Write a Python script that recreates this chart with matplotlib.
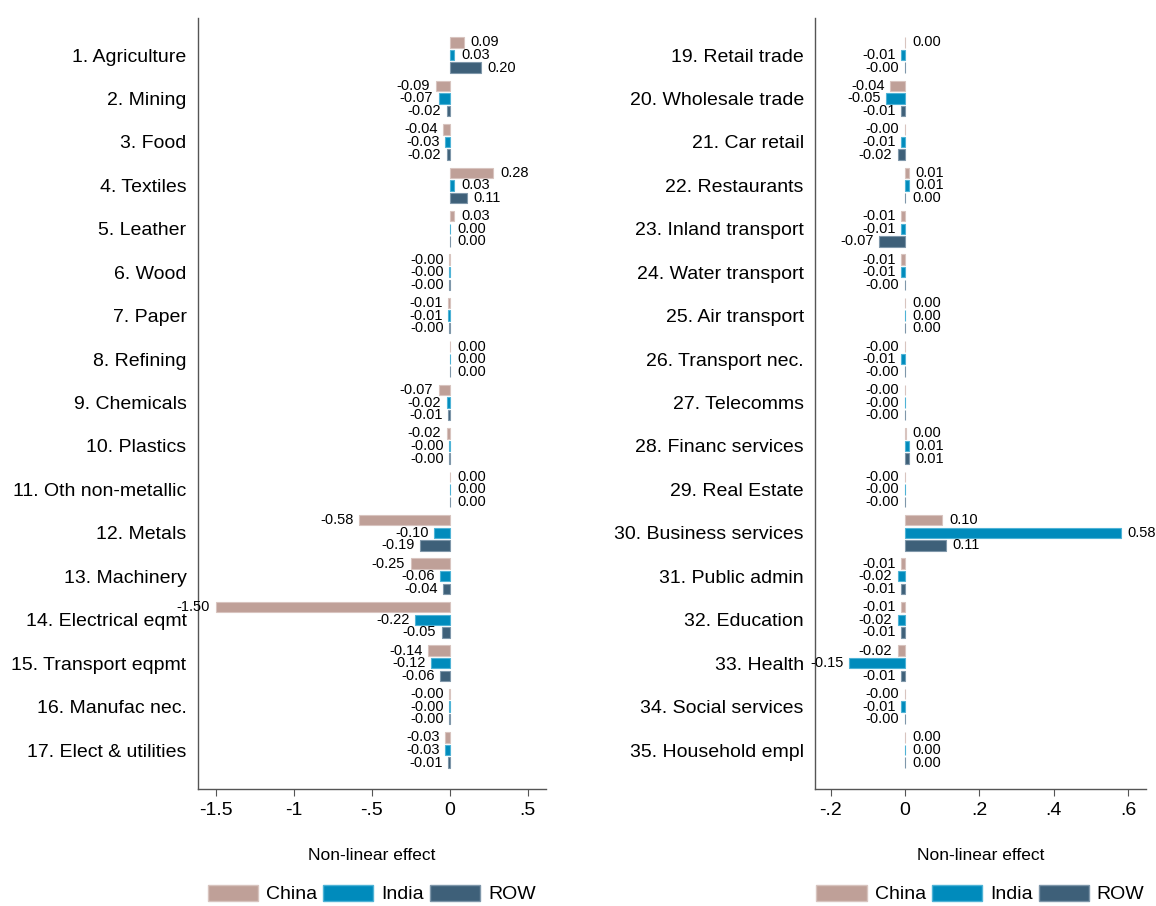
import matplotlib
matplotlib.use("Agg")
import matplotlib.pyplot as plt
from matplotlib.patches import Patch
import numpy as np

plt.rcParams['font.family'] = ['Liberation Sans', 'DejaVu Sans']

# sectors 1-17 (left panel)
sectors_left = ["1. Agriculture", "2. Mining", "3. Food", "4. Textiles", "5. Leather",
                "6. Wood", "7. Paper", "8. Refining", "9. Chemicals", "10. Plastics",
                "11. Oth non-metallic", "12. Metals", "13. Machinery",
                "14. Electrical eqmt", "15. Transport eqpmt", "16. Manufac nec.",
                "17. Elect & utilities"]
china_left = [0.09, -0.09, -0.04, 0.28, 0.03, -0.003, -0.01, 0.003, -0.07, -0.02,
              0.003, -0.58, -0.25, -1.50, -0.14, -0.003, -0.03]
india_left = [0.03, -0.07, -0.03, 0.03, 0.003, -0.003, -0.01, 0.003, -0.02, -0.003,
              0.003, -0.10, -0.06, -0.22, -0.12, -0.003, -0.03]
row_left = [0.20, -0.02, -0.02, 0.11, 0.003, -0.003, -0.003, 0.003, -0.01, -0.003,
            0.003, -0.19, -0.04, -0.05, -0.06, -0.003, -0.01]

# sectors 19-35 (right panel)
sectors_right = ["19. Retail trade", "20. Wholesale trade", "21. Car retail",
                 "22. Restaurants", "23. Inland transport", "24. Water transport",
                 "25. Air transport", "26. Transport nec.", "27. Telecomms",
                 "28. Financ services", "29. Real Estate", "30. Business services",
                 "31. Public admin", "32. Education", "33. Health",
                 "34. Social services", "35. Household empl"]
china_right = [0.0, -0.04, -0.001, 0.01, -0.01, -0.01, 0.001, -0.001, -0.001, 0.002,
               -0.001, 0.10, -0.01, -0.01, -0.02, -0.001, 0.0]
india_right = [-0.01, -0.05, -0.01, 0.01, -0.01, -0.01, 0.001, -0.01, -0.001, 0.01,
               -0.001, 0.58, -0.02, -0.02, -0.15, -0.01, 0.001]
row_right = [-0.001, -0.01, -0.02, 0.001, -0.07, -0.001, 0.001, -0.001, -0.001, 0.01,
             -0.001, 0.11, -0.01, -0.01, -0.01, -0.001, 0.001]

series_names = ["China", "India", "ROW"]
colors = ["#bfa098", "#008bbc", "#3e6079"]
edges = ["#d8c4bf", "#4fb3d6", "#7f97aa"]


def draw_panel(ax, labels, series, xlim, ticks, ticklabels):
    n = len(labels)
    y = -np.arange(n)
    offs = [0.29, 0.0, -0.29]
    for vals, off, c, ec in zip(series, offs, colors, edges):
        vals = np.array(vals)
        ax.barh(y + off, vals, height=0.24, color=c, edgecolor=ec, linewidth=0.8)
        for yi, v in zip(y, vals):
            txt = "%.2f" % v
            if v < 0:
                ax.annotate(txt, (v, yi + off), xytext=(-4, 0), textcoords="offset points",
                            ha="right", va="center", fontsize=10.5)
            else:
                ax.annotate(txt, (v, yi + off), xytext=(5, 0), textcoords="offset points",
                            ha="left", va="center", fontsize=10.5)
    ax.set_ylim(-(n - 1) - 0.9, 0.85)
    ax.set_xlim(*xlim)
    ax.set_yticks(y)
    ax.set_yticklabels(labels, fontsize=14)
    ax.tick_params(axis="y", length=0, pad=8)
    ax.set_xticks(ticks)
    ax.set_xticklabels(ticklabels, fontsize=14)
    ax.tick_params(axis="x", length=5, width=0.8, color="#555555", pad=4)
    for s in ["top", "right"]:
        ax.spines[s].set_visible(False)
    for s in ["left", "bottom"]:
        ax.spines[s].set_color("#555555")
        ax.spines[s].set_linewidth(1.0)
    ax.set_xlabel("Non-linear effect", fontsize=12.5)
    ax.xaxis.set_label_coords(0.5, -0.076)
    handles = [Patch(facecolor=c, edgecolor=ec, label=nm)
               for c, ec, nm in zip(colors, edges, series_names)]
    ax.legend(handles=handles, loc="center", bbox_to_anchor=(0.5, -0.136), ncol=3,
              frameon=False, fontsize=14, handlelength=2.6, handleheight=0.9,
              handletextpad=0.4, columnspacing=0.3, borderaxespad=0)


fig = plt.figure(figsize=(11.56, 9.06), dpi=100)
ax1 = fig.add_axes([0.171, 0.129, 0.301, 0.851])
ax2 = fig.add_axes([0.705, 0.129, 0.2863, 0.851])

draw_panel(ax1, sectors_left, [china_left, india_left, row_left],
           (-1.615, 0.615), [-1.5, -1, -0.5, 0, 0.5], ["-1.5", "-1", "-.5", "0", ".5"])
draw_panel(ax2, sectors_right, [china_right, india_right, row_right],
           (-0.242, 0.648), [-0.2, 0, 0.2, 0.4, 0.6], ["-.2", "0", ".2", ".4", ".6"])

fig.savefig("out.png", dpi=100)
